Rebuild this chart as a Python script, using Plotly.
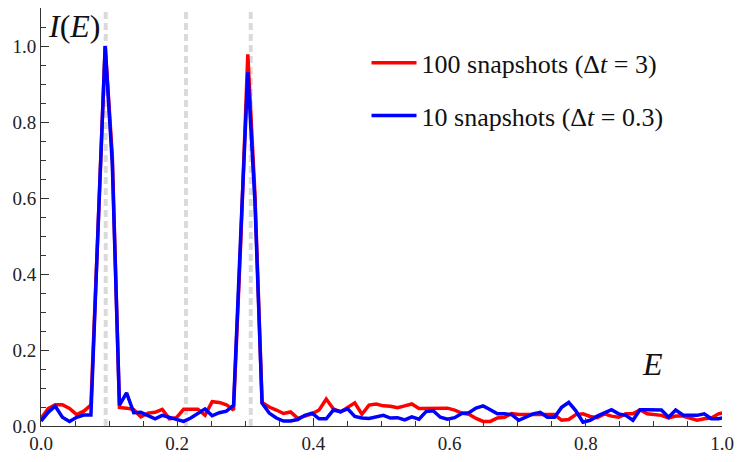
import math
import plotly.graph_objects as go

# ---------------- data ----------------
ENERGY_STEP = math.pi / 300.0
N_POINTS = 97
energy = [k * ENERGY_STEP for k in range(N_POINTS)]

intensity_100 = [
    0.020, 0.046, 0.056, 0.056, 0.046, 0.030, 0.039, 0.055, 0.52, 1.00,
    0.71, 0.049, 0.047, 0.043, 0.024, 0.034, 0.036, 0.044, 0.019, 0.022,
    0.044, 0.044, 0.044, 0.028, 0.064, 0.062, 0.056, 0.042, 0.48, 0.978,
    0.61, 0.062, 0.050, 0.042, 0.033, 0.037, 0.020, 0.026, 0.032, 0.042,
    0.071, 0.045, 0.037, 0.049, 0.061, 0.031, 0.055, 0.058, 0.053, 0.052,
    0.048, 0.053, 0.058, 0.046, 0.046, 0.045, 0.047, 0.047, 0.042, 0.034,
    0.031, 0.020, 0.012, 0.012, 0.021, 0.023, 0.033, 0.030, 0.030, 0.030,
    0.030, 0.032, 0.030, 0.015, 0.017, 0.030, 0.032, 0.025, 0.022, 0.032,
    0.026, 0.023, 0.032, 0.032, 0.043, 0.032, 0.029, 0.028, 0.021, 0.026,
    0.026, 0.021, 0.015, 0.019, 0.021, 0.032, 0.036,
]

intensity_10 = [
    0.013, 0.036, 0.052, 0.023, 0.012, 0.023, 0.029, 0.029, 0.52, 1.00,
    0.69, 0.055, 0.087, 0.035, 0.036, 0.028, 0.019, 0.028, 0.023, 0.016,
    0.012, 0.021, 0.032, 0.045, 0.027, 0.035, 0.039, 0.054, 0.50, 0.931,
    0.59, 0.060, 0.034, 0.021, 0.013, 0.013, 0.017, 0.028, 0.034, 0.019,
    0.019, 0.042, 0.038, 0.045, 0.025, 0.021, 0.020, 0.024, 0.028, 0.021,
    0.022, 0.016, 0.024, 0.018, 0.038, 0.040, 0.023, 0.018, 0.022, 0.033,
    0.035, 0.047, 0.053, 0.043, 0.032, 0.032, 0.030, 0.015, 0.023, 0.032,
    0.036, 0.023, 0.023, 0.049, 0.062, 0.040, 0.010, 0.015, 0.026, 0.034,
    0.043, 0.032, 0.028, 0.015, 0.043, 0.043, 0.043, 0.042, 0.023, 0.042,
    0.029, 0.029, 0.028, 0.032, 0.019, 0.019, 0.023,
]

true_energies = [0.095, 0.213, 0.308]

series_names = [
    "100 snapshots (Δ<i>t</i> = 3)",
    "10 snapshots (Δ<i>t</i> = 0.3)",
]
series_colors = ["#ff0000", "#0000ff"]

x_tickvals = [0.0, 0.2, 0.4, 0.6, 0.8, 1.0]
y_tickvals = [0.0, 0.2, 0.4, 0.6, 0.8, 1.0]

# ---------------- figure ----------------
SERIF = "Liberation Serif"
fig = go.Figure()

for e in true_energies:
    fig.add_vline(x=e, line=dict(color="#dadada", width=4, dash="7px,4px"),
                  layer="below")

for name, ys, col in zip(series_names, [intensity_100, intensity_10], series_colors):
    fig.add_trace(go.Scatter(
        x=energy, y=ys, mode="lines", name=name, legendgroup=name,
        line=dict(color=col, width=3.5),
    ))

axis_common = dict(
    showgrid=False, zeroline=False, showline=True, linecolor="#333333",
    linewidth=1, ticks="inside", ticklen=8, tickcolor="#333333",
    tickformat=".1f", tickfont=dict(family=SERIF, size=19, color="#222222"),
    mirror=False,
)

fig.update_xaxes(range=[0, 1], tickvals=x_tickvals,
                 minor=dict(dtick=0.05, ticks="inside", ticklen=5, tickcolor="#333333"),
                 **axis_common)
fig.update_yaxes(range=[0, 1.1], tickvals=y_tickvals,
                 minor=dict(dtick=0.05, ticks="inside", ticklen=5, tickcolor="#333333"),
                 **axis_common)

fig.add_annotation(x=0.008, y=1.053, xref="x", yref="y", xanchor="left",
                   yanchor="middle", showarrow=False,
                   text="<i>I</i>(<i>E</i>)",
                   font=dict(family=SERIF, size=32, color="#111111"))
fig.add_annotation(x=0.898, y=0.163, xref="x", yref="y", showarrow=False,
                   text="<i>E</i>",
                   font=dict(family=SERIF, size=32, color="#111111"))

fig.update_layout(
    width=742, height=462,
    margin=dict(l=41, r=14, t=8, b=28),
    paper_bgcolor="white", plot_bgcolor="white",
    font=dict(family=SERIF),
    showlegend=True,
    legend=dict(x=0.478, y=0.925, xanchor="left", yanchor="top",
                font=dict(family=SERIF, size=26, color="#111111"),
                bgcolor="rgba(0,0,0,0)", borderwidth=0,
                traceorder="grouped", tracegroupgap=16, itemwidth=45),
)

fig.write_html("out.html")
